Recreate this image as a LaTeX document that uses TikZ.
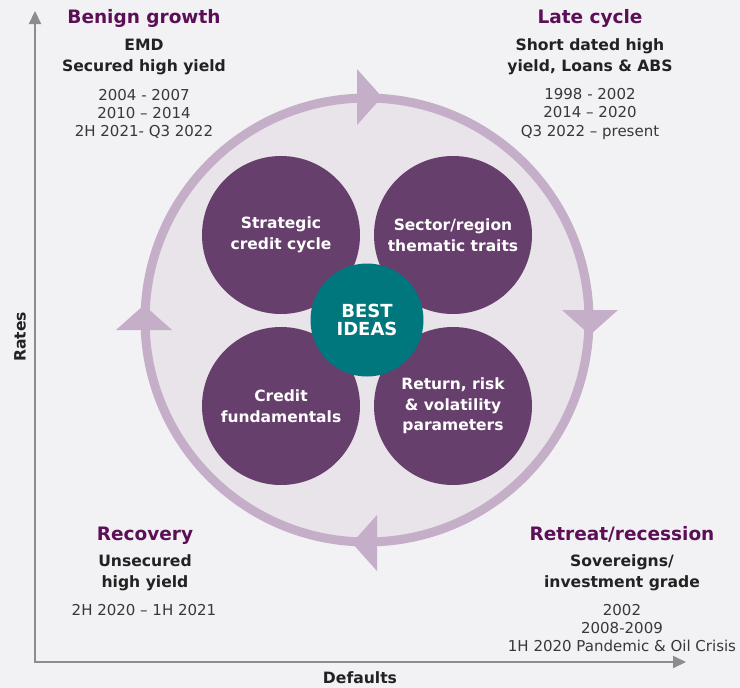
\documentclass[tikz,border=0pt]{standalone}
\usepackage{fontspec}
\setmainfont{DejaVu Sans}
\usetikzlibrary{arrows.meta,positioning}
\definecolor{bgc}{HTML}{F2F2F4}
\definecolor{ringc}{HTML}{C5AEC8}
\definecolor{ringfill}{HTML}{E9E3EA}
\definecolor{bubc}{HTML}{673F6C}
\definecolor{tealc}{HTML}{00777D}
\definecolor{headc}{HTML}{5B0F57}
\definecolor{inkc}{HTML}{222222}
\definecolor{axisc}{HTML}{8C8C8C}

\begin{document}
\begin{tikzpicture}[
  x=1pt, y=-1pt,
  phase/.style={inner sep=0, anchor=base, text=headc, font=\fontsize{18.5}{22}\selectfont\bfseries},
  asset/.style={inner sep=0, anchor=base, align=center, text=inkc, font=\fontsize{15.6}{21}\selectfont\bfseries},
  years/.style={inner sep=0, anchor=base, align=center, text=inkc!90, font=\fontsize{15}{18.3}\selectfont},
  bubble/.style={circle, fill=bubc, minimum size=158pt, inner sep=0, align=center, text=white, font=\fontsize{15.5}{20.7}\selectfont\bfseries},
  axis/.style={draw=axisc, line width=2pt, {Triangle[length=13pt,width=12pt]}-{Triangle[length=13pt,width=12pt]}},
  axislabel/.style={inner sep=0, text=inkc, font=\fontsize{15.6}{18}\selectfont\bfseries}
]
\fill[bgc] (0,0) rectangle (740,688);
\useasboundingbox (0,0) rectangle (740,688);

\coordinate (ytip) at (35,11);
\coordinate (xtip) at (686,662);
\draw[axis] (ytip) |- (xtip);
\node[axislabel, rotate=90] (rates) at (20,337) {Rates};
\node[axislabel, anchor=base] (defaults) at (360,683) {Defaults};

\node[circle, minimum size=444pt, draw=ringc, line width=9pt, fill=ringfill] (cycle) at (367,320) {};
\foreach \r in {0,-90,-180,-270}
  \fill[ringc, shift={(cycle.center)}, rotate=\r] (-10,-251) -- (15,-223) -- (-10,-195) -- cycle;

\node[bubble] (strategic) at (281,235) {Strategic\\credit cycle};
\node[bubble] (sector) at (453,235) {Sector/region\\thematic traits};
\node[bubble] (fundamentals) at (281,406) {Credit\\fundamentals};
\node[bubble] (parameters) at (453,406) {Return, risk\\\& volatility\\parameters};
\node[circle, fill=tealc, minimum size=113pt, inner sep=0, align=center, text=white,
  font=\fontsize{18}{18.3}\selectfont\bfseries] (best) at (367,320) {BEST\\IDEAS};

\node[phase] (benign) at (144,23.3) {Benign growth};
\node[asset] (benignassets) at (144,71.7) {EMD\\Secured high yield};
\node[years] (benignyears) at (144,136.7) {2004 - 2007\\2010 -- 2014\\2H 2021- Q3 2022};

\node[phase] (late) at (590,23.3) {Late cycle};
\node[asset] (lateassets) at (590,71.7) {Short dated high\\yield, Loans \& ABS};
\node[years] (lateyears) at (590,136) {1998 - 2002\\2014 -- 2020\\Q3 2022 -- present};

\node[phase] (recovery) at (145,540) {Recovery};
\node[asset] (recoveryassets) at (145,587) {Unsecured\\high yield};
\node[years] (recoveryyears) at (144,615) {2H 2020 -- 1H 2021};

\node[phase] (retreat) at (622,540) {Retreat/recession};
\node[asset] (retreatassets) at (622,587) {Sovereigns/\\investment grade};
\node[years] (retreatyears) at (622,651.7) {2002\\2008-2009\\1H 2020 Pandemic \& Oil Crisis};
\end{tikzpicture}
\end{document}
